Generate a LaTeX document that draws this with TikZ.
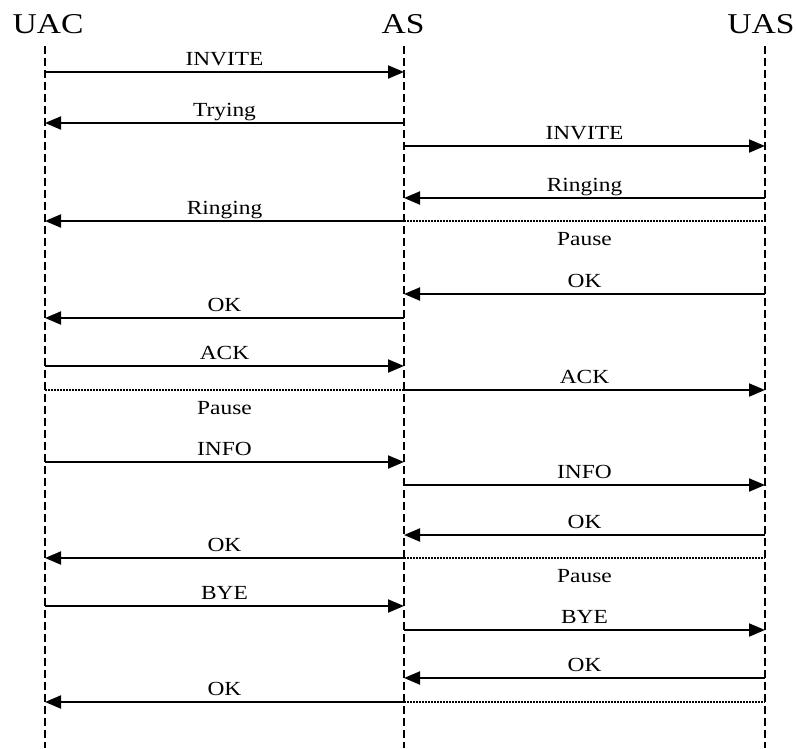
\documentclass[tikz,border=0pt]{standalone}
\usepackage{fontspec}
\setmainfont{Liberation Serif}
\usepackage{graphicx}
\usetikzlibrary{arrows.meta,calc,positioning}

\newcommand{\wide}[1]{\scalebox{1.17}[1]{#1}}

\tikzset{
  party/.style={anchor=base,inner sep=0pt,font=\fontsize{28.7}{30}\selectfont},
  life/.style={line width=1.2pt,dash pattern=on 8pt off 4pt},
  msg/.style={line width=2pt,-{Triangle[length=16pt,width=13pt]}},
  pause/.style={line width=1.1pt,dash pattern=on 1.5pt off 1.5pt},
  txt/.style={anchor=base,inner sep=0pt,yshift=7pt,font=\fontsize{20}{22}\selectfont},
  wait/.style={anchor=base,inner sep=0pt,yshift=-24.5pt,font=\fontsize{20}{22}\selectfont},
}

\begin{document}
\begin{tikzpicture}[x=1pt,y=-1pt]
  \useasboundingbox (0,0) rectangle (796,748);

  % the three parties
  \node[party] (uacname) at (48,33) {\wide{UAC}};
  \node[party] (asname)  at (403,33) {\wide{AS}};
  \node[party] (uasname) at (761,33) {\wide{UAS}};
  \coordinate (uac) at (45,46);
  \coordinate (as)  at (404,46);
  \coordinate (uas) at (765,46);
  \draw[life] (uac) -- (uac |- 0,748);
  \draw[life] (as)  -- (as |- 0,748);
  \draw[life] (uas) -- (uas |- 0,748);

  % call setup
  \draw[msg] (uac |- 0,72)  -- node[txt] {\wide{INVITE}}  (as |- 0,72);
  \draw[msg] (as |- 0,123)  -- node[txt] {\wide{Trying}}  (uac |- 0,123);
  \draw[msg] (as |- 0,146)  -- node[txt] {\wide{INVITE}}  (uas |- 0,146);
  \draw[msg] (uas |- 0,198) -- node[txt] {\wide{Ringing}} (as |- 0,198);
  \draw[msg] (as |- 0,221)  -- node[txt] {\wide{Ringing}} (uac |- 0,221);
  \draw[pause] (as |- 0,221) -- node[wait] {\wide{Pause}} (uas |- 0,221);
  \draw[msg] (uas |- 0,294) -- node[txt] {\wide{OK}}  (as |- 0,294);
  \draw[msg] (as |- 0,318)  -- node[txt] {\wide{OK}}  (uac |- 0,318);
  \draw[msg] (uac |- 0,366) -- node[txt] {\wide{ACK}} (as |- 0,366);
  \draw[pause] (uac |- 0,390) -- node[wait] {\wide{Pause}} (as |- 0,390);
  \draw[msg] (as |- 0,390)  -- node[txt] {\wide{ACK}} (uas |- 0,390);

  % info
  \draw[msg] (uac |- 0,462) -- node[txt] {\wide{INFO}} (as |- 0,462);
  \draw[msg] (as |- 0,485)  -- node[txt] {\wide{INFO}} (uas |- 0,485);
  \draw[msg] (uas |- 0,535) -- node[txt] {\wide{OK}}   (as |- 0,535);
  \draw[msg] (as |- 0,558)  -- node[txt] {\wide{OK}}   (uac |- 0,558);
  \draw[pause] (as |- 0,558) -- node[wait] {\wide{Pause}} (uas |- 0,558);

  % teardown
  \draw[msg] (uac |- 0,606) -- node[txt] {\wide{BYE}} (as |- 0,606);
  \draw[msg] (as |- 0,630)  -- node[txt] {\wide{BYE}} (uas |- 0,630);
  \draw[msg] (uas |- 0,678) -- node[txt] {\wide{OK}}  (as |- 0,678);
  \draw[msg] (as |- 0,702)  -- node[txt] {\wide{OK}}  (uac |- 0,702);
  \draw[pause] (as |- 0,702) -- (uas |- 0,702);
\end{tikzpicture}
\end{document}
